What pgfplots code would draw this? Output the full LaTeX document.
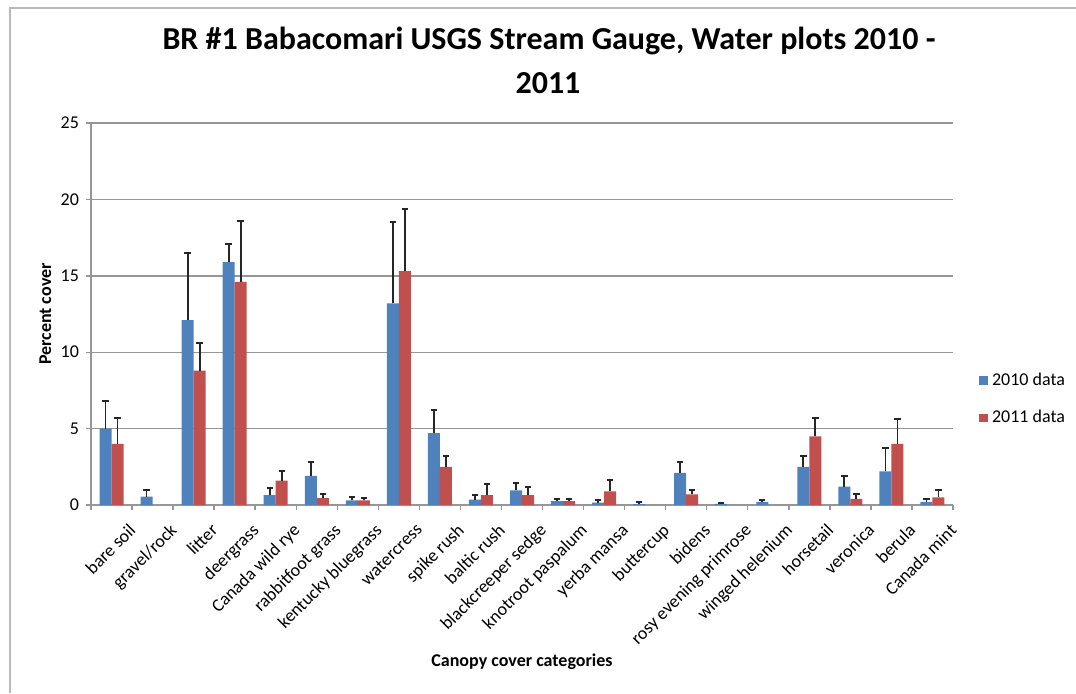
\documentclass[border=0pt]{standalone}
\usepackage{pgfplots}
\pgfplotsset{compat=1.18}
\usepackage{pgfplotstable}
\usepackage{fontspec}
\setmainfont{Carlito}

\definecolor{xlblue}{RGB}{79,129,189}
\definecolor{xlred}{RGB}{192,80,77}
\definecolor{gridgray}{RGB}{150,150,150}
\definecolor{framegray}{RGB}{185,185,185}

% x  2010 mean/err  2011 mean/err (nan = no bar)
\pgfplotstableread{
x  a     ea    b     eb
0  5.0   1.8   4.0   1.7
1  0.55  0.45  nan   nan
2  12.1  4.4   8.8   1.8
3  15.9  1.2   14.6  4.0
4  0.65  0.45  1.6   0.6
5  1.9   0.9   0.45  0.3
6  0.3   0.25  0.3   0.15
7  13.2  5.3   15.3  4.1
8  4.7   1.5   2.5   0.7
9  0.35  0.3   0.65  0.7
10 0.95  0.5   0.65  0.55
11 0.25  0.15  0.25  0.15
12 0.15  0.2   0.9   0.75
13 0.05  0.13  nan   nan
14 2.1   0.7   0.7   0.3
15 0.08  0.04  nan   nan
16 0.2   0.15  nan   nan
17 2.5   0.7   4.5   1.2
18 1.2   0.7   0.4   0.3
19 2.2   1.5   4.0   1.6
20 0.2   0.2   0.5   0.5
}\covertable

\begin{document}
\begin{tikzpicture}
\useasboundingbox (-45.5pt,-94pt) rectangle (492.5pt,252.5pt);
\draw[framegray, line width=1pt] (-40.5pt,-94pt) -- (-40.5pt,248.5pt) -- (492.5pt,248.5pt);
\begin{axis}[
  at={(0,0)}, anchor=south west,
  scale only axis, width=431pt, height=191pt,
  ybar=0pt, bar width=6pt,
  xmin=-0.5, xmax=20.5, ymin=0, ymax=25,
  axis x line*=bottom, axis y line*=left,
  axis line style={gridgray, line width=0.7pt},
  ytick={0,5,...,25},
  ymajorgrids, major grid style={gridgray, line width=0.7pt},
  tick align=outside, major tick length=2.5pt,
  tick style={gridgray, line width=0.7pt},
  major x tick style={draw=none},
  minor xtick={-0.5,0.5,...,20.5}, minor tick length=2.5pt,
  xtick={0,...,20},
  xticklabels={bare soil,gravel/rock,litter,deergrass,Canada wild rye,rabbitfoot grass,kentucky bluegrass,watercress,spike rush,baltic rush,blackcreeper sedge,knotroot paspalum,yerba mansa,buttercup,bidens,rosy evening primrose,winged helenium,horsetail,veronica,berula,Canada mint},
  x tick label style={rotate=45, anchor=north east, font=\fontsize{9}{10}\selectfont, inner sep=1pt, xshift=2.5pt, yshift=-9pt},
  y tick label style={font=\fontsize{9}{10}\selectfont},
  /pgf/number format/assume math mode=true,
  xlabel={\textbf{Canopy cover categories}},
  xlabel style={at={(axis description cs:0.5,-0.411)}, anchor=center, font=\fontsize{9}{10}\selectfont},
  ylabel={\textbf{Percent cover}},
  ylabel style={at={(axis description cs:-0.053,0.5)}, anchor=center, font=\fontsize{9}{10}\selectfont},
  legend style={at={(rel axis cs:1.03,0.277)}, anchor=west, draw=none, fill=none,
    font=\fontsize{9}{10}\selectfont, row sep=7pt, inner sep=0pt},
  legend cell align=left,
  legend image code/.code={\fill[#1] (0pt,-2.2pt) rectangle (4.4pt,2.2pt);},
  error bars/error bar style={black!85, line width=0.9pt},
  error bars/error mark options={black!85, line width=1pt, mark size=1.6pt, rotate=90},
]
\addplot[fill=xlblue, draw=none,
  error bars/.cd, y dir=plus, y explicit]
  table[x=x, y=a, y error=ea] {\covertable};
\addlegendentry{2010 data}
\addplot[fill=xlred, draw=none,
  error bars/.cd, y dir=plus, y explicit]
  table[x=x, y=b, y error=eb] {\covertable};
\addlegendentry{2011 data}
\end{axis}
\node[anchor=base, font=\fontsize{16}{18}\selectfont\bfseries] at (229pt,228pt) {BR \#1 Babacomari USGS Stream Gauge, Water plots 2010 -};
\node[anchor=base, font=\fontsize{16}{18}\selectfont\bfseries] at (228.5pt,206pt) {2011};
\end{tikzpicture}
\end{document}
